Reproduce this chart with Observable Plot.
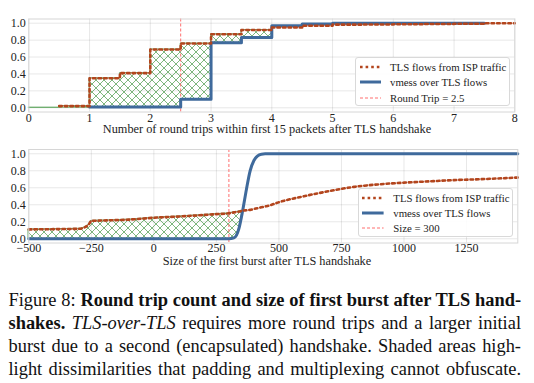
<!DOCTYPE html>
<html><head><meta charset="utf-8">
<script src="https://cdn.jsdelivr.net/npm/d3@7"></script>
<script src="https://cdn.jsdelivr.net/npm/@observablehq/plot@0.6"></script>
<style>
html,body{margin:0;padding:0;background:#fff}
body{width:534px;height:383px;overflow:hidden;position:relative;font-family:"Liberation Serif",serif;color:#111}
#top,#bot{position:absolute;left:0}
#top{top:0}#bot{top:140px}
#top svg,#bot svg{font-family:"Liberation Serif",serif !important}
#top svg text,#bot svg text{font-family:"Liberation Serif",serif !important;font-size:12px !important;fill:#222}
.ttl{position:absolute;left:0;width:534px;text-align:center;font-size:12.3px;line-height:13px;color:#222;white-space:nowrap}
.legend{position:absolute;background:rgba(255,255,255,0.9);border:1px solid #d9d9d9;border-radius:3px;box-sizing:border-box}
.lrow{position:absolute;left:0;height:14px;width:100%}
.lrow svg{position:absolute;top:0}
.lrow span{position:absolute;font-size:10.8px;line-height:14px;top:0;color:#222;white-space:nowrap}
.cap{position:absolute;left:8.5px;width:512.5px;font-size:18.4px;line-height:22.9px;height:22.9px;text-align:justify;text-align-last:justify;white-space:nowrap;color:#111}
</style></head>
<body>
<div id="top"></div>
<div id="bot"></div>
<script>
// ---------- data ----------
const rtTicks = [0, 1, 2, 3, 4, 5, 6, 7, 8];
const yTicks = [0, 0.2, 0.4, 0.6, 0.8, 1.0];
const rtIspX = [0.5, 1, 1.5, 2, 2.5, 3, 3.5, 4, 4.5, 5, 5.5, 6, 6.5, 7, 7.5, 8];
const rtIspY = [0.02, 0.35, 0.41, 0.69, 0.76, 0.87, 0.92, 0.95, 0.97, 0.983, 0.985, 0.988, 0.99, 0.993, 1.0, 1.0];
const rtVmessX = [1, 1.5, 2, 2.5, 3, 3.5, 4, 4.5, 5, 5.5, 6, 6.5, 7, 7.5];
const rtVmessY = [0.01, 0.01, 0.01, 0.10, 0.77, 0.83, 0.97, 0.99, 1.0, 1.0, 1.0, 1.0, 1.0, 1.0];
const rtThreshold = 2.5;

const burstTicks = [-500, -250, 0, 250, 500, 750, 1000, 1250];
const burstX = [-500, -400, -300, -280, -260, -250, -200, -100, 0, 100, 200, 250, 300,
  320, 330, 340, 355, 370, 385, 400, 415, 430, 445, 460,
  500, 600, 700, 800, 900, 1000, 1100, 1200, 1300, 1455];
const burstIsp = [0.11, 0.113, 0.117, 0.13, 0.17, 0.21, 0.215, 0.225, 0.247, 0.262, 0.28, 0.29, 0.30,
  0.31, 0.315, 0.32, 0.33, 0.335, 0.34, 0.35, 0.36, 0.37, 0.38, 0.39,
  0.43, 0.50, 0.56, 0.61, 0.64, 0.66, 0.675, 0.69, 0.70, 0.72];
const burstVmess = [0, 0, 0, 0, 0, 0, 0, 0, 0, 0, 0, 0, 0,
  0.01, 0.04, 0.12, 0.33, 0.58, 0.80, 0.92, 0.975, 0.995, 1, 1,
  1, 1, 1, 1, 1, 1, 1, 1, 1, 1];
const burstThreshold = 300;

const legendTop = ["TLS flows from ISP traffic", "vmess over TLS flows", "Round Trip = 2.5"];
const legendBottom = ["TLS flows from ISP traffic", "vmess over TLS flows", "Size = 300"];
const titleTop = "Number of round trips within first 15 packets after TLS handshake";
const titleBottom = "Size of the first burst after TLS handshake";

// ---------- styles ----------
const C_ISP = "#b3451d", C_VM = "#3f6a9c", C_TH = "#ff6f6f", C_HATCH = "#5da35d";
const W = 534;
const baseStyle = {fontFamily: "'Liberation Serif', serif", fontSize: "12px", color: "#222", background: "transparent", overflow: "visible"};

function stepAt(xs, ys, x) { let v = 0; for (let i = 0; i < xs.length; i++) if (xs[i] <= x) v = ys[i]; return v; }

// fill between curves where ISP >= vmess (top, step)
const bps = Array.from(new Set([rtTicks[0], ...rtIspX, ...rtVmessX])).sort((a, b) => a - b);
const fillTop = [];
for (const x of bps) {
  const hi = stepAt(rtIspX, rtIspY, x), lo = stepAt(rtVmessX, rtVmessY, x);
  if (hi >= lo) fillTop.push({x, lo, hi});
  else { const p = fillTop[fillTop.length - 1]; fillTop.push({x, lo: p.lo, hi: p.hi}); break; }
}
const ispTop = rtIspX.map((x, i) => ({x, y: rtIspY[i]}));
const vmTop = rtVmessX.map((x, i) => ({x, y: rtVmessY[i]}));

const burst = burstX.map((x, i) => ({x, isp: burstIsp[i], vm: burstVmess[i]}));
const fillBot = [];
for (const d of burst) { if (d.isp >= d.vm) fillBot.push(d); else break; }

function addHatch(svg, id) {
  const ns = "http://www.w3.org/2000/svg";
  const defs = document.createElementNS(ns, "defs");
  const pat = document.createElementNS(ns, "pattern");
  pat.setAttribute("id", id);
  pat.setAttribute("patternUnits", "userSpaceOnUse");
  pat.setAttribute("width", "8"); pat.setAttribute("height", "8");
  const path = document.createElementNS(ns, "path");
  path.setAttribute("d", "M0,0L8,8M8,0L0,8M-1,7L1,9M7,-1L9,1M-1,1L1,-1M7,9L9,7");
  path.setAttribute("stroke", C_HATCH); path.setAttribute("stroke-width", "0.8"); path.setAttribute("fill", "none");
  pat.appendChild(path); defs.appendChild(pat);
  svg.insertBefore(defs, svg.firstChild);
}

const fmtBurst = d => d < 0 ? "\u2212" + (-d) : String(d);

const topPlot = Plot.plot({
  width: W, height: 140,
  marginLeft: 28.3, marginRight: 19.7, marginTop: 18.5, marginBottom: 28.5,
  style: baseStyle,
  x: {domain: [0, 8], ticks: rtTicks, tickFormat: d => String(d), tickSize: 0, tickPadding: 1, label: null, grid: true},
  y: {domain: [-0.05, 1.05], ticks: yTicks, tickFormat: d3.format(".1f"), tickSize: 0, tickPadding: 3, label: null, grid: true},
  marks: [
    Plot.areaY(fillTop, {x: "x", y1: "lo", y2: "hi", curve: "step-after", fill: "url(#hatchA)", stroke: C_HATCH, strokeWidth: 0.8}),
    Plot.ruleX([rtThreshold], {stroke: C_TH, strokeWidth: 1, strokeDasharray: "3,2"}),
    Plot.line(vmTop, {x: "x", y: "y", curve: "step-after", stroke: C_VM, strokeWidth: 3}),
    Plot.line(ispTop, {x: "x", y: "y", curve: "step-after", stroke: C_ISP, strokeWidth: 2.6, strokeDasharray: "2.6,3"}),
    Plot.frame({stroke: "#d6d6d6"})
  ]
});
addHatch(topPlot, "hatchA");
document.getElementById("top").appendChild(topPlot);

const botPlot = Plot.plot({
  width: W, height: 130,
  marginLeft: 28.3, marginRight: 16.7, marginTop: 9, marginBottom: 27.5,
  style: baseStyle,
  x: {domain: [-500, 1455], ticks: burstTicks, tickFormat: fmtBurst, tickSize: 0, tickPadding: 0.5, label: null, grid: true},
  y: {domain: [-0.05, 1.05], ticks: yTicks, tickFormat: d3.format(".1f"), tickSize: 0, tickPadding: 3, label: null, grid: true},
  marks: [
    Plot.areaY(fillBot, {x: "x", y1: "vm", y2: "isp", curve: "monotone-x", fill: "url(#hatchB)", stroke: C_HATCH, strokeWidth: 0.8}),
    Plot.ruleX([burstThreshold], {stroke: C_TH, strokeWidth: 1, strokeDasharray: "3,2"}),
    Plot.line(burst, {x: "x", y: "vm", curve: "monotone-x", stroke: C_VM, strokeWidth: 3}),
    Plot.line(burst, {x: "x", y: "isp", curve: "monotone-x", stroke: C_ISP, strokeWidth: 2.6, strokeDasharray: "2.6,3"}),
    Plot.frame({stroke: "#d6d6d6"})
  ]
});
addHatch(botPlot, "hatchB");
document.getElementById("bot").appendChild(botPlot);

// ---------- titles ----------
function addTitle(text, top) {
  const d = document.createElement("div");
  d.className = "ttl"; d.style.top = top + "px"; d.style.left = "0px";
  d.textContent = text; document.body.appendChild(d);
}
addTitle(titleTop, 123);
addTitle(titleBottom, 255);

// ---------- legends ----------
function addLegend(labels, left, top, w, h, rowsY, sx0, sx1, tx) {
  const box = document.createElement("div");
  box.className = "legend";
  Object.assign(box.style, {left: left + "px", top: top + "px", width: w + "px", height: h + "px"});
  const styles = [
    {stroke: C_ISP, sw: 2.6, dash: "2.6,3"},
    {stroke: C_VM, sw: 3, dash: null},
    {stroke: C_TH, sw: 1, dash: "3,2"}
  ];
  labels.forEach((lab, i) => {
    const row = document.createElement("div");
    row.className = "lrow"; row.style.top = (rowsY[i] - 7) + "px";
    const s = styles[i];
    row.innerHTML = `<svg width="${sx1 + 2}" height="14"><line x1="${sx0}" x2="${sx1}" y1="7" y2="7" stroke="${s.stroke}" stroke-width="${s.sw}" ${s.dash ? `stroke-dasharray="${s.dash}"` : ""}/></svg>`;
    const sp = document.createElement("span");
    sp.style.left = tx + "px"; sp.textContent = lab;
    row.appendChild(sp);
    box.appendChild(row);
  });
  document.body.appendChild(box);
}
addLegend(legendTop, 355, 57, 155, 49, [8.7, 23.7, 39.7], 4, 25, 34);
addLegend(legendBottom, 357.7, 188.3, 155.6, 48.4, [9, 24, 39], 3, 24.6, 34.6);

// ---------- caption ----------
const capLines = [
  'Figure 8: <b>Round trip count and size of first burst after TLS hand-</b>',
  '<b>shakes.</b> <i>TLS-over-TLS</i> requires more round trips and a larger initial',
  'burst due to a second (encapsulated) handshake. Shaded areas high-',
  'light dissimilarities that padding and multiplexing cannot obfuscate.'
];
capLines.forEach((html, i) => {
  const d = document.createElement("div");
  d.className = "cap"; d.style.top = (289 + i * 22.9) + "px";
  d.innerHTML = html; document.body.appendChild(d);
});
</script>
</body></html>
